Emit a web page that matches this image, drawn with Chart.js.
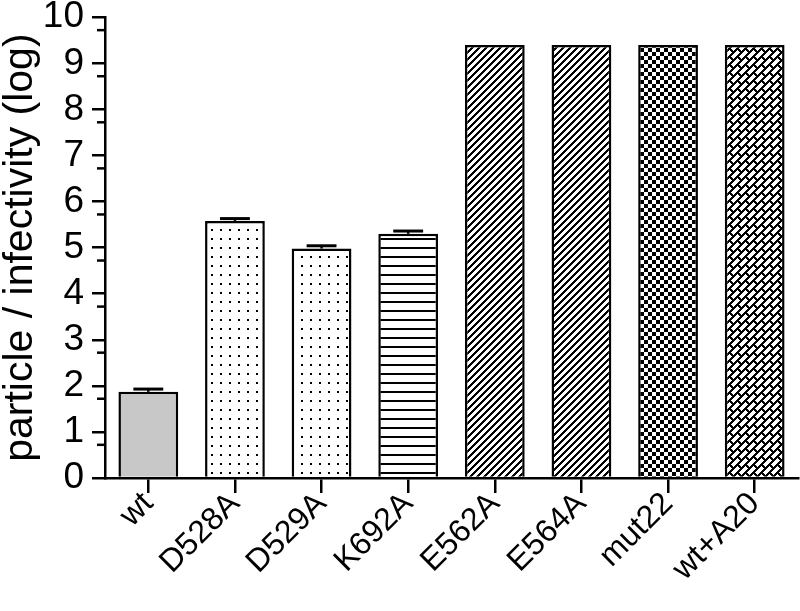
<!DOCTYPE html>
<html>
<head>
<meta charset="utf-8">
<script src="https://cdn.jsdelivr.net/npm/chart.js@4"></script>
<style>
  body { margin: 0; background: #fff; }
  #wrap { width: 800px; height: 611px; }
</style>
</head>
<body>
<div id="wrap"><canvas id="bar-chart" width="800" height="611"></canvas></div>
<script>
// data
const mutants = ['wt', 'D528A', 'D529A', 'K692A', 'E562A', 'E564A', 'mut22', 'wt+A20'];
const ratioLog = [1.87, 5.58, 4.98, 5.3, 9.4, 9.4, 9.4, 9.4];
const ratioErr = [0.06, 0.05, 0.06, 0.06, 0, 0, 0, 0];
const yTicks = [0, 1, 2, 3, 4, 5, 6, 7, 8, 9, 10];
const yMinor = [0.72, 1.72, 2.72, 3.72, 4.72, 5.72, 6.72, 7.72, 8.72, 9.72];

const FONT = '"Liberation Sans", Arial, sans-serif';

// fill patterns, drawn pixel by pixel so they stay crisp
function pixelPattern(w, h, isBlack) {
    const c = document.createElement('canvas');
    c.width = w; c.height = h;
    const g = c.getContext('2d');
    const img = g.createImageData(w, h);
    for (let y = 0; y < h; y++) {
        for (let x = 0; x < w; x++) {
            const v = isBlack(x, y) ? 0 : 255;
            const k = (y * w + x) * 4;
            img.data[k] = img.data[k + 1] = img.data[k + 2] = v;
            img.data[k + 3] = 255;
        }
    }
    g.putImageData(img, 0, 0);
    return g.createPattern(c, 'repeat');
}
function mod(a, n) { return ((a % n) + n) % n; }

const dots = pixelPattern(9, 9, function(x, y){ return (x == 4 || x == 5) && (y == 4 || y == 5); });
const hlines = pixelPattern(9, 9, function(x, y){ return y == 4 || y == 5; });
const diag = pixelPattern(7, 7, function(x, y){ return mod(x + y, 7) < 3; });
const checker = pixelPattern(8, 8, function(x, y){ return (x < 4) == (y < 4); });
const weave = pixelPattern(16, 16, function(x, y){
    const u = x + y, v = x - y;
    const row = Math.floor(u / 8) % 2;
    return mod(u, 8) < 3 || mod(v - row * 8, 16) < 3;
});

const fills = ['#c8c8c8', dots, dots, hlines, diag, diag, checker, weave];

// error caps and minor ticks
const extras = {
    id: 'extras',
    afterDatasetsDraw(chart) {
        const ctx = chart.ctx;
        const y = chart.scales.y;
        const meta = chart.getDatasetMeta(0);
        ctx.save();
        ctx.strokeStyle = '#000';
        meta.data.forEach(function(bar, i) {
            if (!ratioErr[i]) return;
            const top = y.getPixelForValue(ratioLog[i] + ratioErr[i]);
            const half = bar.width / 4;
            ctx.lineWidth = 2.5;
            ctx.beginPath();
            ctx.moveTo(bar.x, bar.y);
            ctx.lineTo(bar.x, top);
            ctx.stroke();
            ctx.lineWidth = 3;
            ctx.beginPath();
            ctx.moveTo(bar.x - half, top);
            ctx.lineTo(bar.x + half, top);
            ctx.stroke();
        });
        ctx.lineWidth = 2.5;
        const left = chart.chartArea.left;
        yMinor.forEach(function(v) {
            const py = y.getPixelForValue(v);
            ctx.beginPath();
            ctx.moveTo(left - 8, py);
            ctx.lineTo(left, py);
            ctx.stroke();
        });
        ctx.restore();
    }
};

const ctx = document.getElementById('bar-chart').getContext('2d');
const myChart = new Chart(ctx, {
    type: 'bar',
    data: {
        labels: mutants,
        datasets: [{
            data: ratioLog,
            backgroundColor: fills,
            borderColor: '#000',
            borderWidth: 2.5,
            borderSkipped: 'bottom',
            barPercentage: 0.69,
            categoryPercentage: 1
        }]
    },
    options: {
        responsive: false,
        animation: false,
        layout: { padding: { top: 0, right: 2, left: 0, bottom: 0 } },
        plugins: { legend: { display: false }, tooltip: { enabled: false } },
        scales: {
            x: {
                offset: true,
                grid: { display: true, drawOnChartArea: false, offset: false, color: '#000', lineWidth: 2.5, tickLength: 15 },
                border: { color: '#000', width: 2.5 },
                ticks: {
                    color: '#000', minRotation: 45, maxRotation: 45, padding: -8,
                    font: { family: FONT, size: 32 }
                },
                afterFit: function(s) { s.height = 133; }
            },
            y: {
                min: 0, max: 10,
                afterBuildTicks: function(s) { s.ticks = yTicks.map(function(v){ return { value: v }; }); },
                grid: { display: true, drawOnChartArea: false, color: '#000', lineWidth: 2.5, tickLength: 13 },
                border: { color: '#000', width: 2.5 },
                ticks: {
                    color: '#000', padding: 8,
                    font: { family: FONT, size: 37, lineHeight: 0.5 }
                },
                title: {
                    display: true, text: 'particle / infectivity (log)', color: '#000',
                    font: { family: FONT, size: 41, lineHeight: 1 }, padding: 0
                },
                afterFit: function(s) { s.width = 105; }
            }
        }
    },
    plugins: [extras]
});
</script>
</body>
</html>
